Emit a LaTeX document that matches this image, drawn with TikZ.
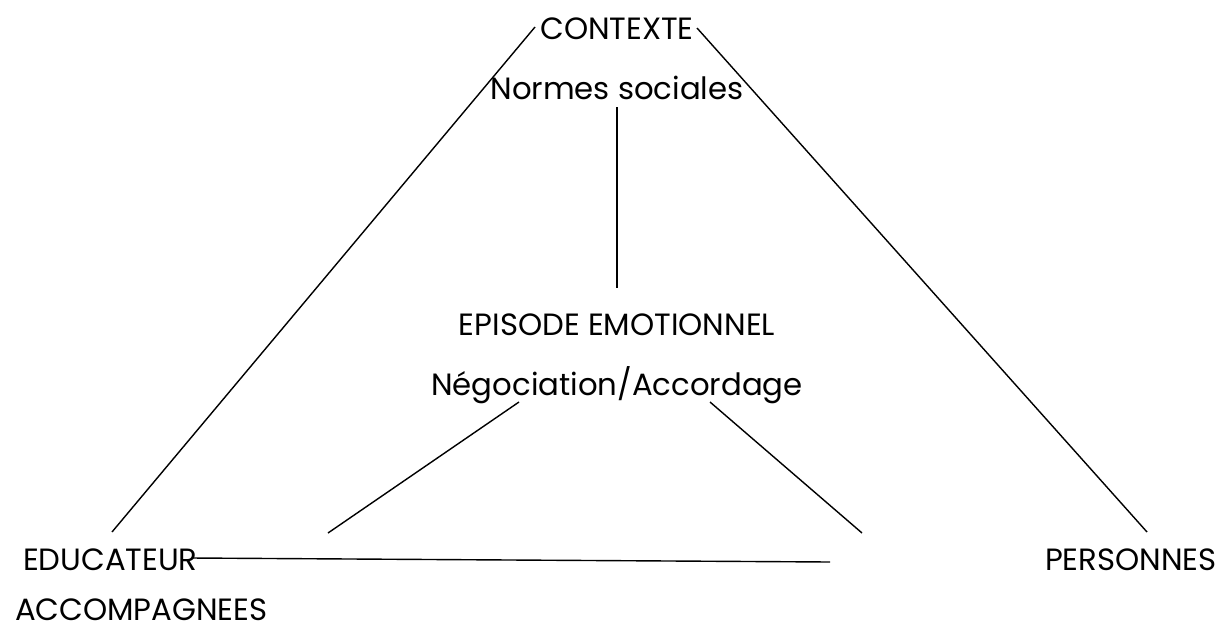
\documentclass[tikz,border=0pt]{standalone}
\usepackage{fontspec}
\setmainfont{Poppins}
\usepackage{tikz}
\usetikzlibrary{calc,positioning}
\begin{document}
\begin{tikzpicture}

\tikzset{lbl/.style={inner sep=0pt, outer sep=0pt, anchor=base, font=\fontsize{17.5}{21}\selectfont},
lien/.style={line width=0.8pt}}

\useasboundingbox (0,0) rectangle (24.54,-12.58);

\node[lbl] (contexte) at (12.34,-0.78) {CONTEXTE};
\node[lbl] (normes) at (12.34,-1.98) {Normes sociales};
\node[lbl] (episode) at (12.34,-6.70) {EPISODE EMOTIONNEL};
\node[lbl] (nego) at (12.34,-7.90) {Négociation/Accordage};

\node[lbl, anchor=base west] (educ) at (0.46,-11.40) {EDUCATEUR};
\node[lbl, anchor=base west] (accomp) at (0.30,-12.40) {ACCOMPAGNEES};
\node[lbl, anchor=base west] (pers) at (20.90,-11.40) {PERSONNES};

%free ends of the lines
\coordinate (hautG) at (10.70,-0.54);
\coordinate (hautD) at (13.94,-0.56);
\coordinate (basG) at (2.24,-10.64);
\coordinate (basD) at (22.94,-10.64);
\coordinate (vertH) at (12.34,-2.14);
\coordinate (vertB) at (12.34,-5.76);
\coordinate (negG) at (10.38,-8.04);
\coordinate (negD) at (14.20,-8.04);
\coordinate (pointG) at (6.56,-10.66);
\coordinate (pointD) at (17.24,-10.66);
\coordinate (horD) at (16.60,-11.24);

\draw[lien] (hautG) -- (basG);
\draw[lien] (hautD) -- (basD);
\draw[lien] (vertH) -- (vertB);
\draw[lien] (negG) -- (pointG);
\draw[lien] (negD) -- (pointD);
\draw[lien] ([xshift=-0.12cm]educ.east |- 3.94,-11.16) -- (horD);

\end{tikzpicture}
\end{document}
